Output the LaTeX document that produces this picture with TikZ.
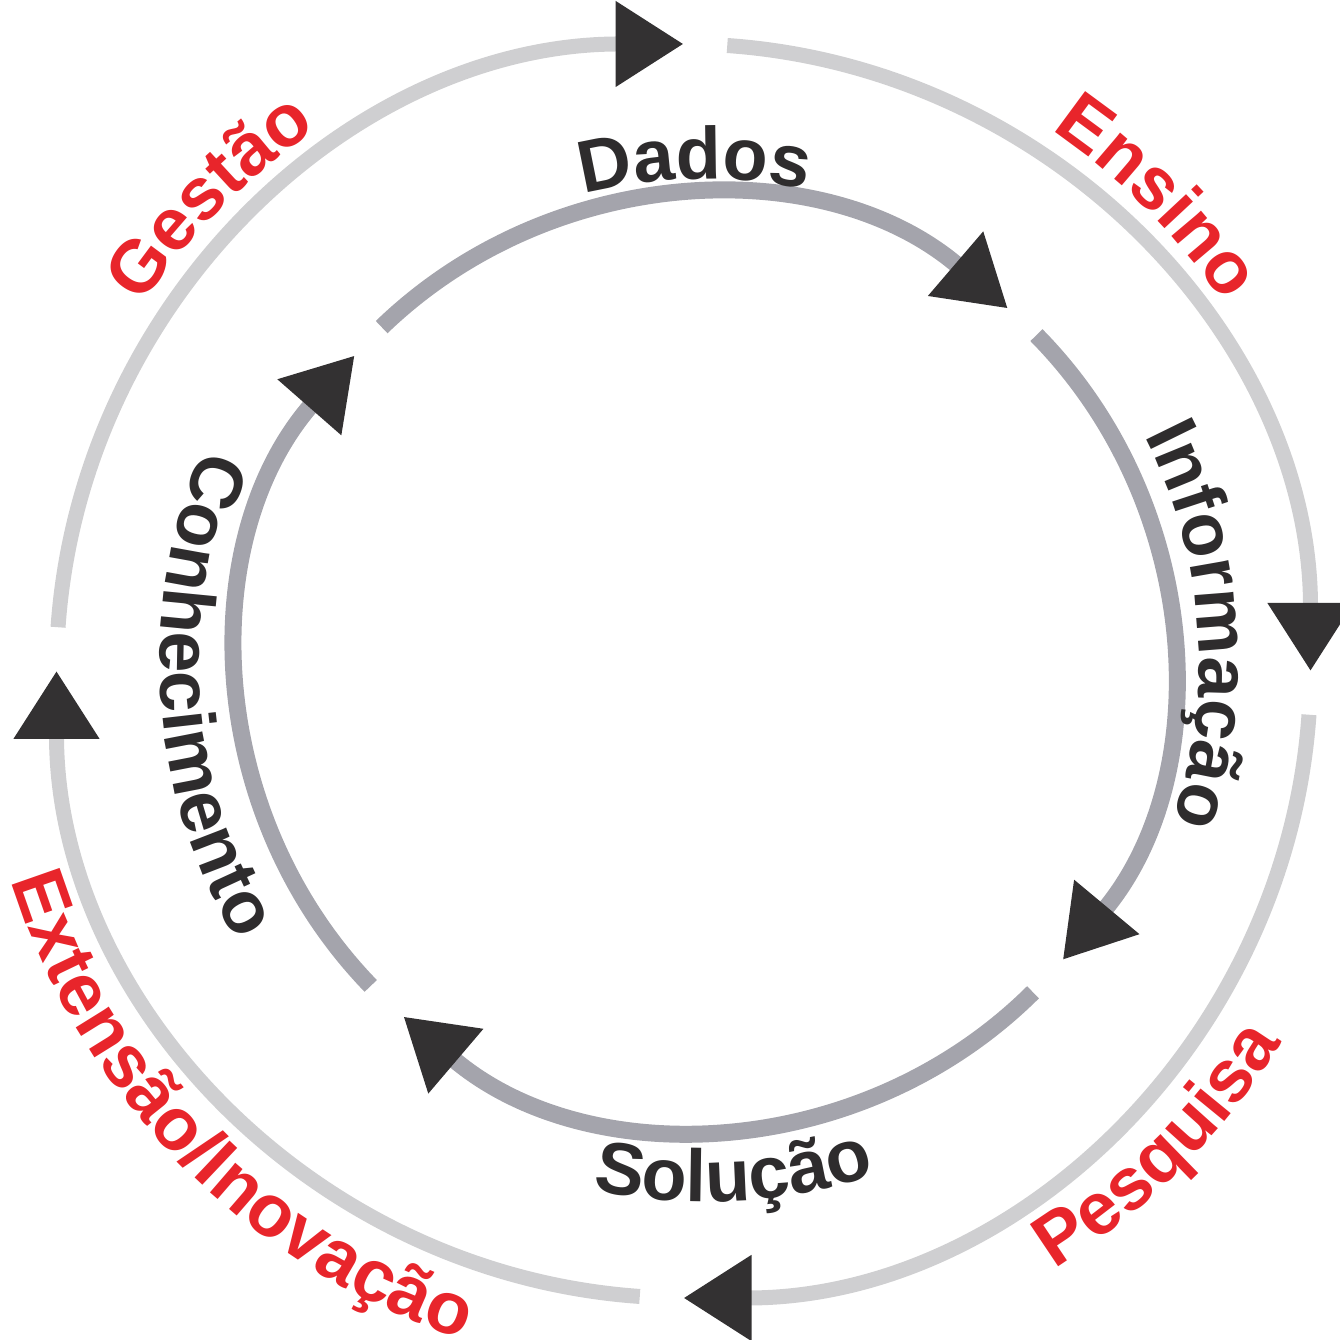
\documentclass[tikz,border=0pt]{standalone}
\usepackage{fontspec}
\setmainfont{Liberation Sans}
\usetikzlibrary{arrows.meta, decorations.text, math, calc}
\definecolor{OuterGray}{HTML}{CFCFD1}
\definecolor{InnerGray}{HTML}{A4A4AC}
\definecolor{TipDark}{HTML}{333132}
\definecolor{LabelRed}{HTML}{E8252B}
\definecolor{LabelDark}{HTML}{2E2C2D}
\newcommand{\lblfont}{\fontsize{21}{25}\selectfont\bfseries}

\begin{document}
\begin{tikzpicture}
		\tikzmath{
			\outR    = 6.27;   %outer ring radius
			\inR     = 4.655;  %inner ring radius
			\outCW   = 6.54;   %baseline of outer labels (clockwise)
			\outCCW  = 7.04;   %baseline of outer labels (counter clockwise)
		}
		\tikzstyle{OuterArc} = [
			draw=OuterGray,
			line width=1.5mm,
			-{Triangle[length=6.8mm, width=8.2mm, color=TipDark]}
		]
		\tikzstyle{InnerArc} = [
			draw=InnerGray,
			line width=1.7mm,
			-{Triangle[length=6.9mm, width=8mm, color=TipDark]}
		]
		\tikzstyle{RedLabel} = [
			decorate,
			decoration={text along path, text align=center, text color=LabelRed}
		]
		\tikzstyle{DarkLabel} = [
			decorate,
			decoration={text along path, text align=center, text color=LabelDark}
		]
		\useasboundingbox (0,0) rectangle (13.4,13.4);
		\coordinate (outC) at (6.835,6.69);
		\coordinate (inC) at (7.05,6.78);
		
		%%%%%%%%%%%%%%%%%%%%%%%%%%===---OUTER RING---===%%%%%%%%%%%%%%%%%%%%%%%%%%
		\draw [OuterArc] ($(outC)+(176:\outR)$) arc[start angle=176, end angle=90, radius=\outR];
		\draw [OuterArc] ($(outC)+(86:\outR)$) arc[start angle=86, end angle=0, radius=\outR];
		\draw [OuterArc] ($(outC)+(-4:\outR)$) arc[start angle=-4, end angle=-90, radius=\outR];
		\draw [OuterArc] ($(outC)+(-94:\outR)$) arc[start angle=-94, end angle=-180, radius=\outR];
		%%%%%%%%%%%%%%%%%%%%%%%%%%===---OUTER LABELS---===%%%%%%%%%%%%%%%%%%%%%%%%%%
		\path [RedLabel, decoration={text={|\lblfont|Gestão}}]
			($(outC)+(155:\outCW)$) arc[start angle=155, end angle=115, radius=\outCW];
		\path [RedLabel, decoration={text={|\lblfont|Ensino}}]
			($(outC)+(65:\outCW)$) arc[start angle=65, end angle=25, radius=\outCW];
		\path [RedLabel, decoration={text={|\lblfont|Pesquisa}}]
			($(outC)+(-70:\outCCW)$) arc[start angle=-70, end angle=-20, radius=\outCCW];
		\path [RedLabel, decoration={text={|\lblfont|Extensão/Inovação}}]
			($(outC)+(179.5:\outCCW)$) arc[start angle=179.5, end angle=269.5, radius=\outCCW];
		
		%%%%%%%%%%%%%%%%%%%%%%%%%%===---INNER RING---===%%%%%%%%%%%%%%%%%%%%%%%%%%
		\draw [InnerArc] ($(inC)+(134:\inR)$) arc[start angle=134, end angle=49.4, radius=\inR];
		\draw [InnerArc] ($(inC)+(44.6:\inR)$) arc[start angle=44.6, end angle=-39.8, radius=\inR];
		\draw [InnerArc] ($(inC)+(-45.2:\inR)$) arc[start angle=-45.2, end angle=-130.4, radius=\inR];
		\draw [InnerArc] ($(inC)+(224.1:\inR)$) arc[start angle=224.1, end angle=138.8, radius=\inR];
		%%%%%%%%%%%%%%%%%%%%%%%%%%===---INNER LABELS---===%%%%%%%%%%%%%%%%%%%%%%%%%%
		\path [DarkLabel, decoration={text={|\lblfont|Dados}}]
			($(inC)+(116.2:4.83)$) arc[start angle=116.2, end angle=66.2, radius=4.83];
		\path [DarkLabel, decoration={text={|\lblfont|Informação}}]
			($(inC)+(44.25:4.94)$) arc[start angle=44.25, end angle=-35.75, radius=4.94];
		\path [DarkLabel, decoration={text={|\lblfont|Solução}}]
			($(inC)+(-111.8:5.40)$) arc[start angle=-111.8, end angle=-61.8, radius=5.40];
		\path [DarkLabel, decoration={text={|\lblfont|Conhecimento}}]
			($(inC)+(143.9:5.45)$) arc[start angle=143.9, end angle=223.9, radius=5.45];
		
	\end{tikzpicture}
\end{document}
